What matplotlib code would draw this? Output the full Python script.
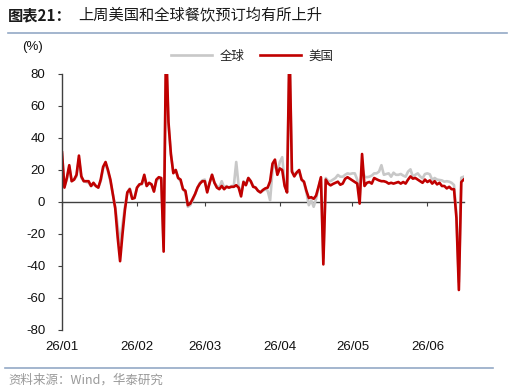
import matplotlib
matplotlib.use("Agg")
import matplotlib.pyplot as plt
import matplotlib.dates as mdates
from matplotlib.lines import Line2D
import pandas as pd

plt.rcParams['font.family'] = ['Liberation Sans', 'Noto Sans CJK SC', 'DejaVu Sans']
plt.rcParams['axes.unicode_minus'] = False

start_date = "2026-01-01"
series_names = ["全球", "美国"]

us = [31, 9, 15, 23, 13, 14, 17, 29, 16, 13, 13, 13, 10, 12, 10, 9, 14, 22, 25, 20,
      14, 5, -4, -22, -37, -20, -5, 6, 8, 2, 2.5, 9, 11, 11.5, 17, 10, 12, 11, 6.5, 14,
      15.5, 15, -31, 100, 50, 30, 18, 20, 15, 14, 8, 7, -2, -1, 2, 5, 9, 11.5, 13, 13,
      6, 12, 17, 12, 9, 8, 10, 8, 9.5, 9, 9.5, 9.5, 10.5, 9, 3.5, 12.5, 10.5, 15, 13, 9.5,
      9, 7, 6, 7.5, 8.5, 9, 13, 24, 26.5, 17, 21, 20, 10, 6, 100, 19, 16, 18.5, 20, 14,
      12.7, 7, 2.5, 3, 2, 4, 9.5, 15.5, -39, 14, 11.5, 10.4, 11.3, 12, 12.7, 10.8, 11.5, 14.5, 15.5, 14.5,
      13.5, 12.5, 11.5, -1, 30, 10, 12, 12.5, 11.5, 15, 14.2, 13.5, 13, 13, 12.5, 11.5, 12, 11.5, 12, 12.5,
      11.5, 12.5, 11.5, 14, 16, 14.6, 15, 14, 13, 12, 14, 12.5, 13.5, 11.5, 13, 11, 12, 10, 10, 8.5,
      9.5, 8, 8, -10, -55, 12.5, 14]

glob = [30, 10, 14, 22, 13, 14, 16, 27, 15, 13, 12.5, 12, 10, 11, 10, 9, 13, 21, 24, 19,
        13, 5, -3, -15, -26, -14, -3, 6, 8.5, 3, 3, 9, 11, 11, 16, 10, 11.5, 11, 7, 13,
        15, 14, -28, 95, 48, 30, 19, 20, 15, 13, 8, 6, -3, -2, 1, 5, 9, 12, 13.5, 14,
        7, 12, 17, 12, 10, 9, 13, 9, 10, 9, 10, 10, 25, 10, 5, 13, 11, 15, 13, 10,
        9, 7, 6, 7, 8, 7, 1, 20, 24, 18, 25, 28, 12, 6, 95, 20, 17, 18, 19, 14,
        12, 6, -2, 1, -3, 2, 9, 15, -35, 15, 13, 13, 14, 15, 16.9, 15.8, 15.8, 17, 17.9, 17.5,
        17.9, 17.9, 14, 3, 22, 15.8, 15.5, 15.8, 16.5, 17.9, 17.9, 19, 23, 17, 17.5, 17.9, 15.8, 18.3, 17, 17,
        17.5, 16.5, 15.8, 19, 20.4, 15.8, 17, 17.9, 16, 14.8, 17.5, 17.9, 17.3, 13.75, 15, 14, 13.75, 13.5, 12.7, 13,
        12.7, 12, 10.6, -8, -50, 15.2, 15.8]

y_ticks = [-80, -60, -40, -20, 0, 20, 40, 60, 80]
x_tick_dates = ["2026-01-01", "2026-02-01", "2026-03-01", "2026-04-01", "2026-05-01", "2026-06-01"]

dates = pd.date_range(start_date, periods=len(us), freq="D")

W, H = 513, 392
fig = plt.figure(figsize=(W / 100, H / 100), dpi=100)
ax = fig.add_axes([62 / W, 1 - 330 / H, (463.7 - 62) / W, 256 / H])

ax.plot(dates, glob, color="#C8C8C8", lw=1.9, label=series_names[0])
ax.plot(dates, us, color="#C00000", lw=1.9, label=series_names[1])

ax.set_ylim(-80, 80)
ax.set_xlim(dates[0], dates[-1])
ax.set_yticks(y_ticks)
ax.set_xticks(pd.to_datetime(x_tick_dates))
ax.xaxis.set_major_formatter(mdates.DateFormatter("%y/%m"))

for s in ["top", "right"]:
    ax.spines[s].set_visible(False)
ax.spines["bottom"].set_position(("data", 0))
ax.spines["bottom"].set_color("#404040")
ax.spines["left"].set_color("#404040")
ax.spines["bottom"].set_linewidth(1.0)
ax.spines["left"].set_linewidth(1.0)
ax.spines["bottom"].set_zorder(1)

ax.tick_params(axis="y", direction="out", length=3, width=0.8, color="#404040",
               labelsize=9.5, pad=9, labelcolor="#111111")
ax.tick_params(axis="x", direction="out", length=3, width=0.8, color="#404040",
               labelsize=9.5, pad=97, labelcolor="#111111")
ax.set_facecolor("none")

leg = ax.legend(loc="center", bbox_to_anchor=(252 / W, 1 - 56 / H),
                bbox_transform=fig.transFigure, ncol=2, frameon=False,
                handlelength=3.3, columnspacing=1.2, handletextpad=0.6,
                prop={"family": ["Noto Sans CJK SC"], "size": 9})
for t in leg.get_texts():
    t.set_color("#222222")

fig.text(32.5 / W, 1 - 47 / H, "(%)", ha="center", va="center", fontsize=9.5, color="#111111")

fig.text(8 / W, 1 - 15 / H, "图表21：", ha="left", va="center", fontsize=11,
         fontweight="bold", family=["Noto Sans CJK SC"], color="#1a1a1a")
fig.text(78 / W, 1 - 15 / H, "上周美国和全球餐饮预订均有所上升", ha="left", va="center",
         fontsize=11, family=["Noto Sans CJK SC"], color="#1a1a1a")

fig.add_artist(Line2D([8 / W, 507 / W], [1 - 32.5 / H] * 2, color="#94A9C6", lw=1.2))
fig.add_artist(Line2D([5 / W, 493 / W], [1 - 367.7 / H] * 2, color="#94A9C6", lw=1.2))

fig.text(8 / W, 1 - 380 / H, "资料来源：Wind，华泰研究", ha="left", va="center",
         fontsize=9, family=["Noto Sans CJK SC", "Liberation Sans"], color="#999999")

fig.savefig("out.png", dpi=100)
